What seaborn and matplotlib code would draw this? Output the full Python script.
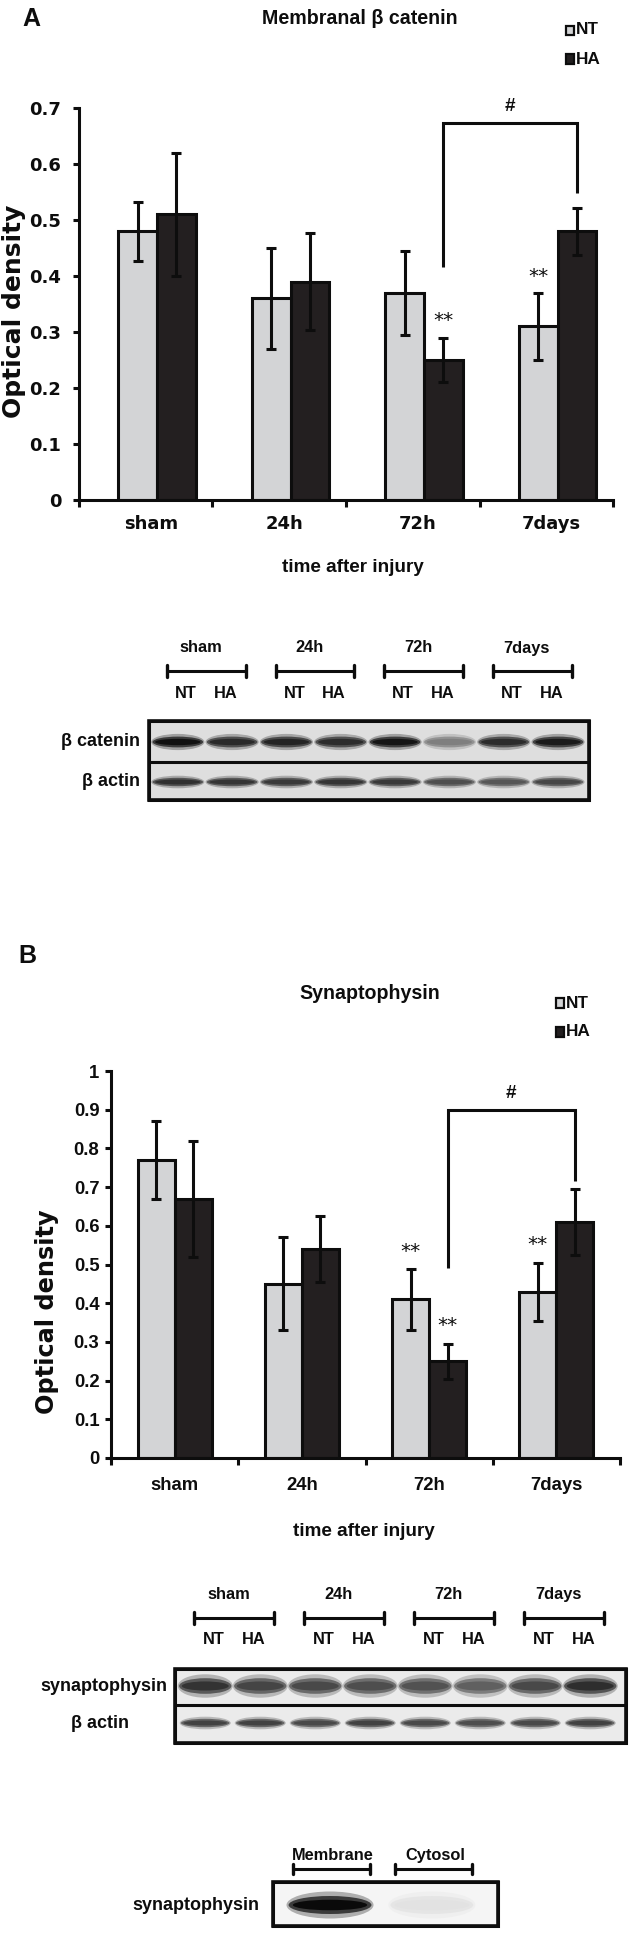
import numpy as np
import pandas as pd
import matplotlib
matplotlib.use('Agg')
import matplotlib.pyplot as plt
import seaborn as sns
from matplotlib.patches import Ellipse, Rectangle
from matplotlib.colors import to_rgb
from matplotlib import font_manager

# ---------------- data ----------------
categories = ['sham', '24h', '72h', '7days']
groups = ['NT', 'HA']

a_nt = [0.48, 0.36, 0.37, 0.31]
a_ha = [0.51, 0.39, 0.25, 0.48]
a_nt_err = [0.053, 0.09, 0.075, 0.06]
a_ha_err = [0.11, 0.087, 0.04, 0.042]
a_yticks = [0, 0.1, 0.2, 0.3, 0.4, 0.5, 0.6, 0.7]
a_yticklabels = ['0', '0.1', '0.2', '0.3', '0.4', '0.5', '0.6', '0.7']
a_stars = [('HA', '72h'), ('NT', '7days')]
a_bracket = [0.673, 0.416, 0.548]   # level, left end, right end

b_nt = [0.77, 0.45, 0.41, 0.43]
b_ha = [0.67, 0.54, 0.25, 0.61]
b_nt_err = [0.10, 0.12, 0.078, 0.075]
b_ha_err = [0.15, 0.085, 0.045, 0.085]
b_yticks = [0, 0.1, 0.2, 0.3, 0.4, 0.5, 0.6, 0.7, 0.8, 0.9, 1.0]
b_yticklabels = ['0', '0.1', '0.2', '0.3', '0.4', '0.5', '0.6', '0.7', '0.8', '0.9', '1']
b_stars = [('NT', '72h'), ('HA', '72h'), ('NT', '7days')]
b_bracket = [0.90, 0.49, 0.715]

# western blot band intensities (lanes: sham NT, sham HA, 24h NT, 24h HA, 72h NT, 72h HA, 7d NT, 7d HA)
blot_a_catenin = [0.97, 0.85, 0.88, 0.84, 0.95, 0.45, 0.84, 0.92]
blot_a_actin = [0.82, 0.8, 0.78, 0.8, 0.78, 0.68, 0.64, 0.72]
blot_b_syn = [0.82, 0.74, 0.72, 0.7, 0.68, 0.62, 0.72, 0.84]
blot_b_actin = [0.75, 0.75, 0.72, 0.75, 0.72, 0.7, 0.72, 0.75]
fractions = ['Membrane', 'Cytosol']
fraction_syn = [1.0, 0.08]

# ---------------- style ----------------
NT_COLOR = '#d3d4d6'
HA_COLOR = '#231f20'
EDGE = '#0d0d0d'
PX = 0.72  # points per pixel at 100 dpi
LW = 2.2

sns.set_style('white')
plt.rcParams['font.family'] = ['DejaVu Sans']

_names = {f.name for f in font_manager.fontManager.ttflist}
if 'Liberation Sans Narrow' in _names:
    NARROW, NSCALE = 'Liberation Sans Narrow', 1.0
else:
    NARROW, NSCALE = 'Liberation Sans', 0.82


def narrow(px, **kw):
    d = dict(family=[NARROW, 'DejaVu Sans'], fontsize=px * NSCALE * PX, weight='bold')
    d.update(kw)
    return d


W, H = 629, 1935
fig = plt.figure(figsize=(W / 100, H / 100), dpi=100)


def px_axes(x0, y0, x1, y1):
    return fig.add_axes([x0 / W, 1 - y1 / H, (x1 - x0) / W, (y1 - y0) / H])


def ftext(x, y, s, **kw):
    fig.text(x / W, 1 - y / H, s, **kw)


def fsquare(x, y, w, h, fc):
    fig.patches.append(Rectangle((x / W, 1 - (y + h) / H), w / W, h / H,
                                 transform=fig.transFigure, facecolor=fc,
                                 edgecolor=EDGE, linewidth=1.6))


BW = 0.29


def bar_panel(box, nt, ha, nt_err, ha_err, yticks, yticklabels, shift, lab_shift,
              tick_family, tick_px, ypad, xpad, stars, bracket, star_off):
    ax = px_axes(*box)
    n = len(categories)
    df = pd.DataFrame({'time': categories * 2,
                       'group': [groups[0]] * n + [groups[1]] * n,
                       'od': list(nt) + list(ha)})
    sns.barplot(data=df, x='time', y='od', hue='group', order=categories,
                hue_order=groups, palette=[NT_COLOR, HA_COLOR], width=2 * BW,
                gap=0, edgecolor=EDGE, linewidth=LW, errorbar=None,
                legend=False, saturation=1, ax=ax)
    tops = {}
    for j, (vals, errs) in enumerate([(nt, nt_err), (ha, ha_err)]):
        xs = np.arange(n) + (j - 0.5) * BW
        ax.errorbar(xs, vals, yerr=errs, fmt='none', ecolor=EDGE, elinewidth=LW,
                    capsize=3.3, capthick=LW, zorder=5, clip_on=False)
        for i in range(n):
            tops[(groups[j], categories[i])] = (xs[i], vals[i] + errs[i])
    for key in stars:
        x, t = tops[key]
        ax.annotate('**', xy=(x, t), xytext=(0, star_off), textcoords='offset points',
                    ha='center', va='center', fontsize=20 * PX, color=EDGE,
                    family='DejaVu Sans', annotation_clip=False)
    # significance bracket between HA 72h and HA 7days
    level, lo_l, lo_r = bracket
    xl = tops[('HA', '72h')][0]
    xr = tops[('HA', '7days')][0]
    ax.plot([xl, xl, xr, xr], [lo_l, level, level, lo_r], color=EDGE, lw=LW,
            clip_on=False, solid_joinstyle='miter', solid_capstyle='butt')
    ax.annotate('#', xy=((xl + xr) / 2, level), xytext=(0, 12), textcoords='offset points',
                ha='center', va='center', annotation_clip=False,
                **narrow(23, color=EDGE))

    ax.set_xlim(-0.5 - shift, n - 0.5 - shift)
    ax.set_ylim(yticks[0], yticks[-1])
    ax.set_xlabel('')
    ax.set_ylabel('')
    for s in ['top', 'right']:
        ax.spines[s].set_visible(False)
    for s in ['left', 'bottom']:
        ax.spines[s].set_linewidth(LW)
        ax.spines[s].set_color(EDGE)
    ax.set_yticks(yticks, yticklabels)
    ax.set_xticks(np.arange(n + 1) - 0.5 - shift, [''] * (n + 1))
    ax.set_xticks(np.arange(n) + lab_shift, categories, minor=True)
    ax.tick_params(axis='y', length=4, width=LW, direction='out', pad=ypad,
                   color=EDGE, left=True)
    ax.tick_params(axis='x', which='major', length=5, width=LW, direction='out',
                   color=EDGE, bottom=True)
    ax.tick_params(axis='x', which='minor', length=0, pad=xpad, bottom=True)
    for lab in ax.get_yticklabels() + ax.get_xticklabels(minor=True):
        lab.set_fontfamily(tick_family)
        lab.set_fontweight('bold')
        lab.set_fontsize(tick_px * PX)
        lab.set_color(EDGE)
    ax.patch.set_alpha(0)
    return ax


# ---------------- panel A chart ----------------
ftext(22, 19, 'A', ha='left', va='center', family='Liberation Sans', weight='bold',
      fontsize=25 * PX, color=EDGE)
ftext(360, 18, 'Membranal β catenin', ha='center', va='center', **narrow(24, color=EDGE))
fsquare(566, 26, 8, 9, NT_COLOR)
fsquare(566, 54, 8, 10, HA_COLOR)
ftext(576, 30, 'NT', ha='left', va='center', **narrow(21, color=EDGE))
ftext(576, 59, 'HA', ha='left', va='center', **narrow(21, color=EDGE))

bar_panel((79, 108, 613, 500), a_nt, a_ha, a_nt_err, a_ha_err, a_yticks, a_yticklabels,
          shift=0.085, lab_shift=-0.045, tick_family='DejaVu Sans', tick_px=18,
          ypad=12 * PX, xpad=15 * PX, stars=a_stars, bracket=a_bracket, star_off=12)
ftext(14, 311, 'Optical density', rotation=90, ha='center', va='center',
      family='DejaVu Sans', weight='bold', fontsize=25 * PX, color=EDGE)
ftext(353, 568, 'time after injury', ha='center', va='center', **narrow(23, color=EDGE))

# ---------------- panel B chart ----------------
ftext(18, 956, 'B', ha='left', va='center', family='Liberation Sans', weight='bold',
      fontsize=25 * PX, color=EDGE)
ftext(370, 993, 'Synaptophysin', ha='center', va='center', **narrow(24, color=EDGE))
fsquare(556, 998, 8, 10, NT_COLOR)
fsquare(556, 1027, 8, 10, HA_COLOR)
ftext(566, 1003, 'NT', ha='left', va='center', **narrow(21, color=EDGE))
ftext(566, 1032, 'HA', ha='left', va='center', **narrow(21, color=EDGE))

bar_panel((111, 1071, 620, 1458), b_nt, b_ha, b_nt_err, b_ha_err, b_yticks, b_yticklabels,
          shift=0.0, lab_shift=0.0, tick_family='Liberation Sans', tick_px=18.5,
          ypad=6 * PX, xpad=19 * PX, stars=b_stars, bracket=b_bracket, star_off=13)
ftext(47, 1312, 'Optical density', rotation=90, ha='center', va='center',
      family='DejaVu Sans', weight='bold', fontsize=24 * PX, color=EDGE)
ftext(364, 1532, 'time after injury', ha='center', va='center', **narrow(23, color=EDGE))


# ---------------- blots ----------------
def band(ax, x, y, w, h, k, bg):
    base = np.array(to_rgb(bg))
    dark = np.array([0.04, 0.04, 0.04])
    col = base * (1 - k) + dark * k
    for sw, sh, a in [(1.03, 1.8, 0.3), (0.98, 1.2, 0.7), (0.88, 0.7, 1.0)]:
        ax.add_patch(Ellipse((x, y), w * sw, h * sh, facecolor=col, edgecolor='none',
                             alpha=a, zorder=2))


def blot_axes(x0, x1, ytop, ybot, xlim):
    ax = px_axes(x0, ytop, x1, ybot)
    ax.set_xlim(*xlim)
    ax.set_ylim(ybot, ytop)
    ax.axis('off')
    return ax


def blot_box(ax, xlim, top, bottom, bg, divider=None):
    ax.add_patch(Rectangle((xlim[0], top), xlim[1] - xlim[0], bottom - top, facecolor=bg,
                           edgecolor=EDGE, linewidth=LW, clip_on=False, zorder=1))
    if divider is not None:
        ax.plot(xlim, [divider, divider], color=EDGE, lw=LW, clip_on=False, zorder=4)
    ax.add_patch(Rectangle((xlim[0], top), xlim[1] - xlim[0], bottom - top, facecolor='none',
                           edgecolor=EDGE, linewidth=2.6, clip_on=False, zorder=5))


def lane_header(ax, y_lab, y_br, y_sub):
    for g, name in enumerate(categories):
        ax.text(2 * g + 0.42, y_lab, name, ha='center', va='center', **narrow(20, color=EDGE))
        a, b = 2 * g - 0.2, 2 * g + 1.25
        ax.plot([a, b], [y_br, y_br], color=EDGE, lw=2.2, clip_on=False)
        for xx in (a, b):
            ax.plot([xx, xx], [y_br - 6, y_br + 6], color=EDGE, lw=2.4, clip_on=False)
        ax.text(2 * g + 0.15, y_sub, groups[0], ha='center', va='center', **narrow(20, color=EDGE))
        ax.text(2 * g + 0.88, y_sub, groups[1], ha='center', va='center', **narrow(20, color=EDGE))


# blot A
xa = (-0.53, 7.57)
bga = '#dedede'
axa = blot_axes(149, 589, 630, 800, xa)
lane_header(axa, 648, 671, 693)
blot_box(axa, xa, 721, 800, bga, divider=762)
for i, k in enumerate(blot_a_catenin):
    band(axa, i, 742, 0.95, 9, k, bga)
for i, k in enumerate(blot_a_actin):
    band(axa, i, 782, 0.95, 7, k, bga)
ftext(140, 742, 'β catenin', ha='right', va='center', family='Liberation Sans',
      weight='bold', fontsize=18 * PX, color=EDGE)
ftext(140, 782, 'β actin', ha='right', va='center', family='Liberation Sans',
      weight='bold', fontsize=18 * PX, color=EDGE)

# blot B
xb = (-0.55, 7.65)
bgb = '#ebebeb'
axb = blot_axes(175, 626, 1575, 1743, xb)
lane_header(axb, 1594, 1618, 1639)
blot_box(axb, xb, 1669, 1743, bgb, divider=1705)
for i, k in enumerate(blot_b_syn):
    band(axb, i, 1686, 0.97, 13, k, bgb)
for i, k in enumerate(blot_b_actin):
    band(axb, i, 1723, 0.9, 7, k, bgb)
ftext(167, 1686, 'synaptophysin', ha='right', va='center', family='Liberation Sans',
      weight='bold', fontsize=18 * PX, color=EDGE)
ftext(100, 1723, 'β actin', ha='center', va='center', family='Liberation Sans',
      weight='bold', fontsize=18 * PX, color=EDGE)

# fraction blot
xc = (-0.56, 1.65)
bgc = '#f5f5f5'
axc = blot_axes(273, 498, 1840, 1926, xc)
for i, name in enumerate(fractions):
    axc.text(i + 0.03, 1855, name, ha='center', va='center', **narrow(20, color=EDGE))
    a, b = i - 0.36, i + 0.39
    axc.plot([a, b], [1869, 1869], color=EDGE, lw=2.2, clip_on=False)
    for xx in (a, b):
        axc.plot([xx, xx], [1864, 1874], color=EDGE, lw=2.4, clip_on=False)
blot_box(axc, xc, 1882, 1926, bgc)
for i, k in enumerate(fraction_syn):
    band(axc, i, 1905, 0.83, 15, k, bgc)
ftext(259, 1905, 'synaptophysin', ha='right', va='center', family='Liberation Sans',
      weight='bold', fontsize=18 * PX, color=EDGE)

fig.savefig('out.png', dpi=100)
